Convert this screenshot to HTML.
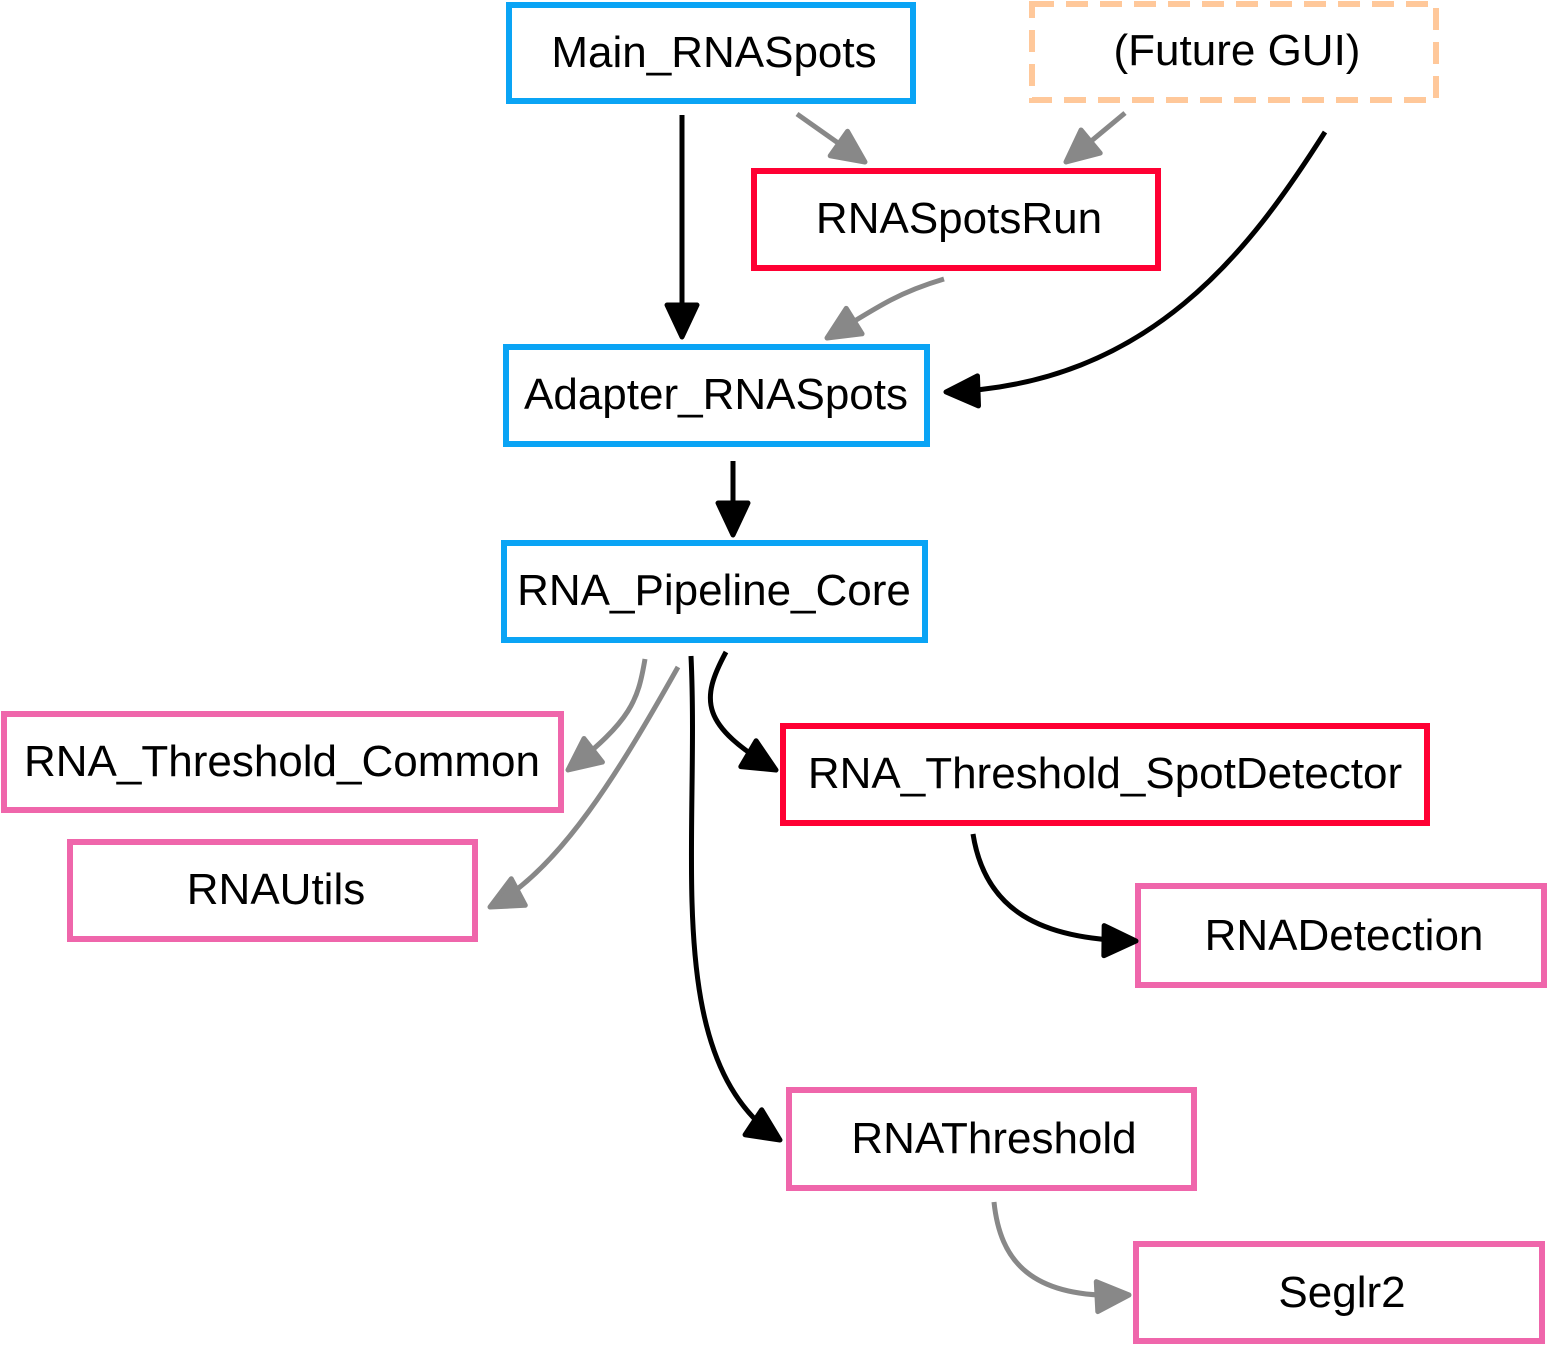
<!DOCTYPE html>
<html><head><meta charset="utf-8"><style>
html,body{margin:0;padding:0;background:#fff;}
svg{display:block;}
text{font-family:"Liberation Sans",Arial,sans-serif;font-size:44px;fill:#000;}
</style></head><body>
<svg width="1547" height="1345" viewBox="0 0 1547 1345" xmlns="http://www.w3.org/2000/svg">
<defs>
<marker id="ab" markerUnits="userSpaceOnUse" markerWidth="44" markerHeight="40" refX="36" refY="20" orient="auto">
<path d="M4,5 L36,20 L4,35 Z" fill="#000" stroke="#000" stroke-width="5" stroke-linejoin="round"/></marker>
<marker id="ag" markerUnits="userSpaceOnUse" markerWidth="44" markerHeight="40" refX="36" refY="20" orient="auto">
<path d="M4,5 L36,20 L4,35 Z" fill="#888" stroke="#888" stroke-width="5" stroke-linejoin="round"/></marker>
</defs>
<g fill="#fff" stroke-width="6">
<rect x="509" y="5" width="404" height="96" stroke="#0aa4f5"/>
<rect x="1032" y="4" width="404" height="96" stroke="#ffc89a" stroke-dasharray="22,12"/>
<rect x="754" y="171" width="404" height="97" stroke="#ff0033"/>
<rect x="506" y="347" width="421" height="97" stroke="#0aa4f5"/>
<rect x="504" y="543" width="421" height="97" stroke="#0aa4f5"/>
<rect x="4" y="714" width="557" height="96" stroke="#ef66ab"/>
<rect x="70" y="842" width="405" height="97" stroke="#ef66ab"/>
<rect x="783" y="726" width="644" height="97" stroke="#ff0033"/>
<rect x="1138" y="886" width="406" height="99" stroke="#ef66ab"/>
<rect x="789" y="1090" width="405" height="98" stroke="#ef66ab"/>
<rect x="1136" y="1244" width="406" height="97" stroke="#ef66ab"/>
</g>
<g text-anchor="middle">
<text x="714" y="67">Main_RNASpots</text>
<text x="1237" y="65">(Future GUI)</text>
<text x="959" y="233">RNASpotsRun</text>
<text x="716" y="409">Adapter_RNASpots</text>
<text x="714" y="605">RNA_Pipeline_Core</text>
<text x="282" y="776">RNA_Threshold_Common</text>
<text x="276" y="904">RNAUtils</text>
<text x="1105" y="788">RNA_Threshold_SpotDetector</text>
<text x="1344" y="950">RNADetection</text>
<text x="994" y="1153">RNAThreshold</text>
<text x="1342" y="1307">Seglr2</text>
</g>
<g fill="none" stroke-width="5">
<path d="M682 115 L682 337" stroke="#000" marker-end="url(#ab)"/>
<path d="M797 114 L865 162" stroke="#888" marker-end="url(#ag)"/>
<path d="M1125 113 L1066 162" stroke="#888" marker-end="url(#ag)"/>
<path d="M1325 132 C1250 250 1150 385 946 392" stroke="#000" marker-end="url(#ab)"/>
<path d="M944 279 C900 292 880 305 827 338" stroke="#888" marker-end="url(#ag)"/>
<path d="M733 461 L733 535" stroke="#000" marker-end="url(#ab)"/>
<path d="M645 659 C638 700 632 720 568 770" stroke="#888" marker-end="url(#ag)"/>
<path d="M678 667 C620 770 560 870 490 907" stroke="#888" marker-end="url(#ag)"/>
<path d="M726 652 C700 700 700 725 776 770" stroke="#000" marker-end="url(#ab)"/>
<path d="M691 656 C700 850 660 1060 780 1140" stroke="#000" marker-end="url(#ab)"/>
<path d="M973 834 C985 910 1040 940 1136 941" stroke="#000" marker-end="url(#ab)"/>
<path d="M994 1202 C1000 1260 1030 1300 1129 1295" stroke="#888" marker-end="url(#ag)"/>
</g>
</svg>
</body></html>
